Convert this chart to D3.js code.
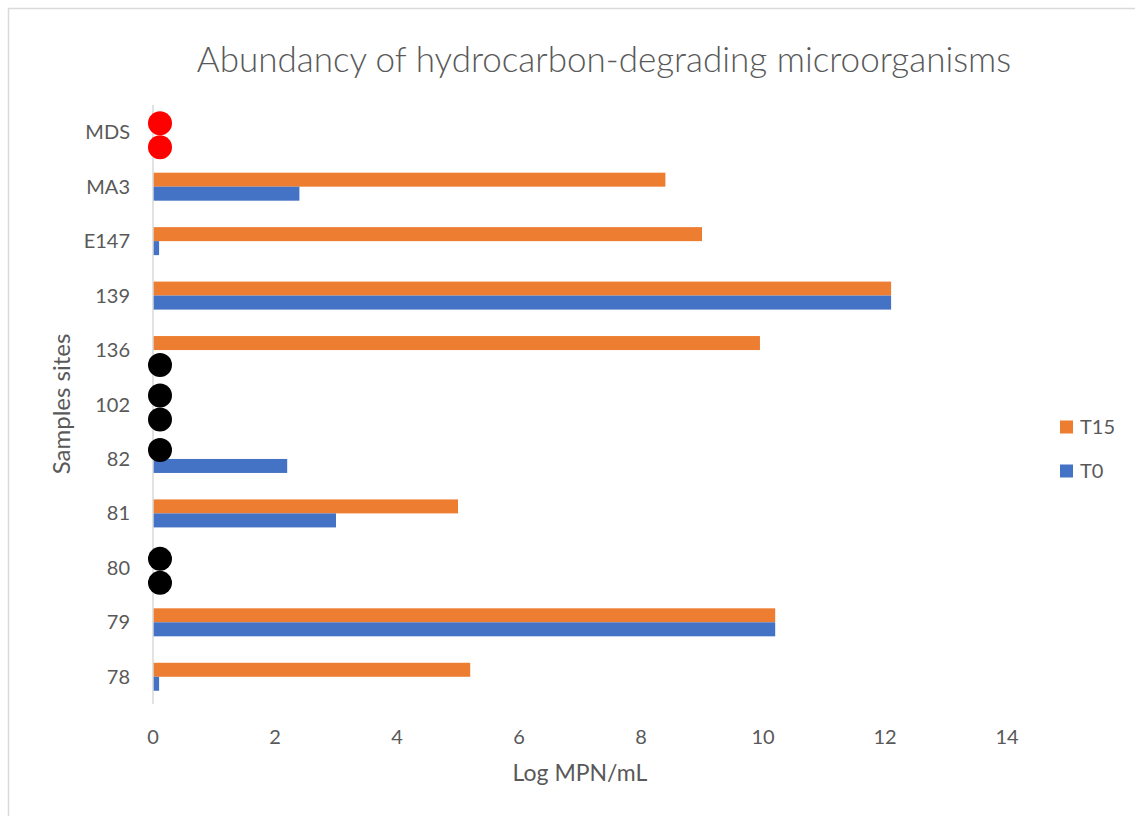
<!DOCTYPE html>
<html>
<head>
<meta charset="utf-8">
<script src="https://cdn.jsdelivr.net/npm/d3@7"></script>
<style>
  body { margin: 0; background: #fff; }
  text { font-family: Lato, "Open Sans", sans-serif; fill: #595959; }
</style>
</head>
<body>
<script>
// sample sites, top to bottom
const sites = ['MDS', 'MA3', 'E147', '139', '136', '102', '82', '81', '80', '79', '78'];
const series = ['T15', 'T0'];
// Log MPN/mL (0 where nothing was detected)
const t15 = [0, 8.4, 9.0, 12.1, 9.95, 0, 0, 5.0, 0, 10.2, 5.2];
const t0 = [0, 2.4, 0.1, 12.1, 0, 0, 2.2, 3.0, 0, 10.2, 0.1];
// dots drawn over empty bars: [site, series, colour]
const dots = [
  ['MDS', 'T15', 'red'], ['MDS', 'T0', 'red'],
  ['136', 'T0', 'black'],
  ['102', 'T15', 'black'], ['102', 'T0', 'black'],
  ['82', 'T15', 'black'],
  ['80', 'T15', 'black'], ['80', 'T0', 'black']
];
const xTicks = [0, 2, 4, 6, 8, 10, 12, 14];

const W = 1135, H = 816;
const m = { top: 105, right: 128, bottom: 112, left: 153 };
const colors = { T15: '#ED7D31', T0: '#4472C4' };

const svg = d3.select('body').append('svg')
    .attr('width', W)
    .attr('height', H);

// chart frame
svg.append('rect')
    .attr('x', 8.5).attr('y', 8.5)
    .attr('width', W).attr('height', H)
    .attr('fill', 'none')
    .attr('stroke', '#d9d9d9')
    .attr('stroke-width', 1.5);

const x = d3.scaleLinear().domain([0, 14]).range([m.left, W - m.right]);
const y = d3.scaleBand().domain(sites).range([m.top, H - m.bottom]);
const yIn = d3.scaleBand().domain(series).range([0, 28]);
const off = (y.bandwidth() - 28) / 2;
// the dots sit a little wider apart than the bars
const yDot = d3.scalePoint().domain(series).range([-9, 15]);

const rows = sites.map((s, i) => ({ site: s, T15: t15[i], T0: t0[i] }));

const g = svg.append('g');
g.selectAll('g.row')
    .data(rows)
    .enter().append('g')
    .attr('transform', d => `translate(0,${y(d.site) + off})`)
    .selectAll('rect')
    .data(d => series.map(k => ({ key: k, value: d[k] })))
    .enter().append('rect')
    .attr('x', x(0))
    .attr('y', d => yIn(d.key))
    .attr('width', d => x(d.value) - x(0))
    .attr('height', yIn.bandwidth())
    .attr('fill', d => colors[d.key]);

// vertical axis line
svg.append('line')
    .attr('x1', x(0)).attr('x2', x(0))
    .attr('y1', m.top).attr('y2', H - m.bottom)
    .attr('stroke', '#d9d9d9')
    .attr('stroke-width', 1.5);

// category labels
svg.selectAll('text.cat')
    .data(sites)
    .enter().append('text')
    .attr('class', 'cat')
    .attr('x', 130)
    .attr('y', d => y(d) + y.bandwidth() / 2)
    .attr('dy', '0.35em')
    .attr('text-anchor', 'end')
    .attr('font-size', 20)
    .text(d => d);

// x tick labels
svg.selectAll('text.tick')
    .data(xTicks)
    .enter().append('text')
    .attr('class', 'tick')
    .attr('x', d => x(d))
    .attr('y', 744)
    .attr('text-anchor', 'middle')
    .attr('font-size', 20)
    .text(d => d);

// dots
svg.selectAll('circle')
    .data(dots)
    .enter().append('circle')
    .attr('cx', x(0) + 7)
    .attr('cy', d => y(d[0]) + y.bandwidth() / 2 + yDot(d[1]))
    .attr('r', 12)
    .attr('fill', d => d[2]);

// titles
svg.append('text')
    .attr('x', 604).attr('y', 72)
    .attr('text-anchor', 'middle')
    .attr('font-size', 35)
    .attr('font-weight', 300)
    .text('Abundancy of hydrocarbon-degrading microorganisms');

svg.append('text')
    .attr('x', 580).attr('y', 781)
    .attr('text-anchor', 'middle')
    .attr('font-size', 23)
    .text('Log MPN/mL');

svg.append('text')
    .attr('transform', 'translate(70,404) rotate(-90)')
    .attr('text-anchor', 'middle')
    .attr('font-size', 24)
    .text('Samples sites');

// legend
const leg = svg.selectAll('g.leg')
    .data(series)
    .enter().append('g')
    .attr('class', 'leg')
    .attr('transform', (d, i) => `translate(1060,${427 + i * 44})`);
leg.append('rect')
    .attr('x', 0).attr('y', -6.5)
    .attr('width', 13).attr('height', 13)
    .attr('fill', d => colors[d]);
leg.append('text')
    .attr('x', 20)
    .attr('dy', '0.35em')
    .attr('font-size', 20)
    .text(d => d);
</script>
</body>
</html>
